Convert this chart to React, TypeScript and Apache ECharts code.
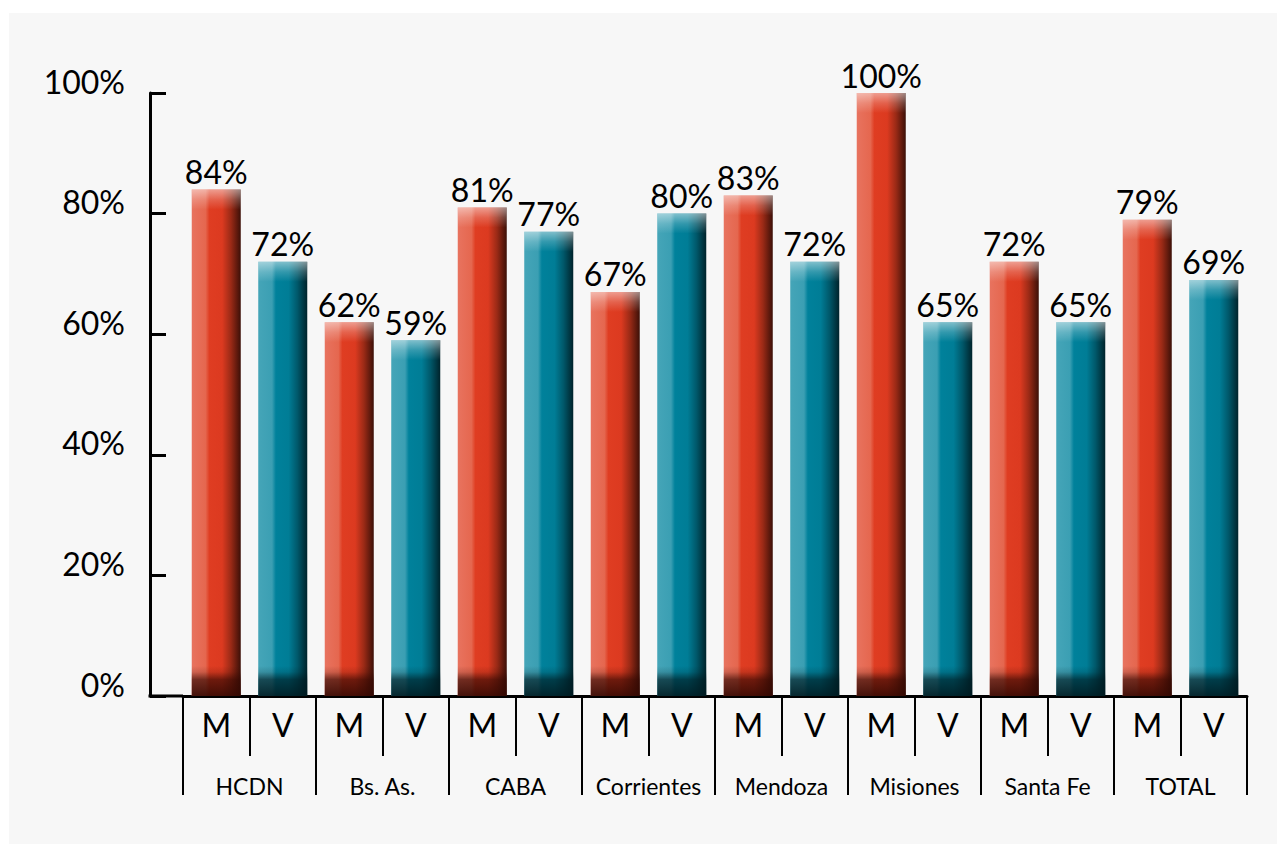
import React, { useEffect, useRef } from "react";
import * as echarts from "echarts";

const groups = ["HCDN", "Bs. As.", "CABA", "Corrientes", "Mendoza", "Misiones", "Santa Fe", "TOTAL"];
const subLabels = ["M", "V"];
const mValues = [84, 62, 81, 67, 83, 100, 72, 79];
const vValues = [72, 59, 77, 80, 72, 62, 62, 69];
const mLabels = ["84%", "62%", "81%", "67%", "83%", "100%", "72%", "79%"];
const vLabels = ["72%", "59%", "77%", "80%", "72%", "65%", "65%", "69%"];
const yTicks = [0, 20, 40, 60, 80, 100];

const FONT = "Lato, 'DejaVu Sans', sans-serif";
const W = 1277;
const H = 844;
const GRID = { left: 183, right: 30, top: 93, bottom: 148 };
const Y_OFFSET = 33;

const redStops = [
  { offset: 0, color: "#e8735f" },
  { offset: 0.28, color: "#e5674f" },
  { offset: 0.36, color: "#df3d22" },
  { offset: 0.62, color: "#dc3a20" },
  { offset: 0.8, color: "#9a2a16" },
  { offset: 1, color: "#3c1008" },
];
const tealStops = [
  { offset: 0, color: "#45a5b8" },
  { offset: 0.28, color: "#3b9fb3" },
  { offset: 0.36, color: "#00819b" },
  { offset: 0.62, color: "#007d96" },
  { offset: 0.8, color: "#00586a" },
  { offset: 1, color: "#00232b" },
];

export default function App() {
  const ref = useRef<HTMLDivElement>(null);

  useEffect(() => {
    document.body.style.margin = "0";
    if (!ref.current) return;
    const chart = echarts.init(ref.current, null, { renderer: "svg" });

    const catData: string[] = [];
    const items: any[] = [];
    groups.forEach((g, i) => {
      catData.push(subLabels[0], subLabels[1]);
      items.push([2 * i, mValues[i], 0, mLabels[i]]);
      items.push([2 * i + 1, vValues[i], 1, vLabels[i]]);
    });

    const renderItem = (params: any, api: any) => {
      const idx = api.value(0);
      const val = api.value(1);
      const kind = api.value(2);
      const label = items[params.dataIndex][3];
      const top = api.coord([idx, val]);
      const base = api.coord([idx, 0]);
      const band = api.size([1, 0])[0];
      const bw = band * 0.737;
      const x = top[0] - bw / 2;
      const h = base[1] - top[1];
      const stops = kind === 0 ? redStops : tealStops;
      const dark = kind === 0 ? "50,8,2" : "0,26,32";
      const botH = Math.min(30, h);
      const topH = Math.min(20, h);
      return {
        type: "group",
        children: [
          {
            type: "rect",
            shape: { x, y: top[1], width: bw, height: h },
            style: { fill: new echarts.graphic.LinearGradient(0, 0, 1, 0, stops) },
          },
          {
            type: "rect",
            shape: { x, y: base[1] - botH, width: bw, height: botH },
            style: {
              fill: new echarts.graphic.LinearGradient(0, 0, 0, 1, [
                { offset: 0, color: `rgba(${dark},0)` },
                { offset: 0.2, color: `rgba(${dark},0.15)` },
                { offset: 0.45, color: `rgba(${dark},0.65)` },
                { offset: 1, color: `rgba(${dark},0.9)` },
              ]),
            },
          },
          {
            type: "rect",
            shape: { x, y: top[1], width: bw, height: topH },
            style: {
              fill: new echarts.graphic.LinearGradient(0, 0, 0, 1, [
                { offset: 0, color: "rgba(255,255,255,0.5)" },
                { offset: 0.5, color: "rgba(255,255,255,0.2)" },
                { offset: 1, color: "rgba(255,255,255,0)" },
              ]),
            },
          },
          {
            type: "text",
            x: top[0],
            y: top[1] - 2,
            style: {
              text: label,
              fontSize: 32,
              fontFamily: FONT,
              fill: "#000",
              align: "center",
              verticalAlign: "bottom",
            },
          },
        ],
      };
    };

    const option: any = {
      animation: false,
      backgroundColor: "#ffffff",
      graphic: [
        {
          type: "rect",
          z: -10,
          silent: true,
          shape: { x: 9, y: 13, width: W - 9, height: H - 13 },
          style: { fill: "#f7f7f7" },
        },
        {
          type: "line",
          z: 10,
          silent: true,
          shape: {
            x1: GRID.left - Y_OFFSET - 1.5,
            y1: H - GRID.bottom,
            x2: GRID.left,
            y2: H - GRID.bottom,
          },
          style: { stroke: "#000", lineWidth: 3 },
        },
      ],
      grid: [
        { ...GRID, containLabel: false },
        { ...GRID, containLabel: false },
      ],
      xAxis: [
        {
          type: "category",
          gridIndex: 0,
          data: catData,
          position: "bottom",
          axisLine: { show: true, lineStyle: { color: "#000", width: 3 } },
          axisTick: { show: true, interval: 0, length: 60, lineStyle: { color: "#000", width: 2 } },
          axisLabel: { interval: 0, fontSize: 32, fontFamily: FONT, color: "#000", margin: 12 },
          splitLine: { show: false },
        },
        {
          type: "category",
          gridIndex: 1,
          data: groups,
          position: "bottom",
          axisLine: { show: false },
          axisTick: { show: true, interval: 0, length: 99, lineStyle: { color: "#000", width: 2 } },
          axisLabel: { interval: 0, fontSize: 23, fontFamily: FONT, color: "#000", margin: 78 },
          splitLine: { show: false },
        },
      ],
      yAxis: [
        {
          type: "value",
          gridIndex: 0,
          min: 0,
          max: 100,
          interval: 20,
          offset: Y_OFFSET,
          axisLine: { show: true, lineStyle: { color: "#000", width: 3 } },
          axisTick: { show: true, inside: true, length: 16, lineStyle: { color: "#000", width: 3 } },
          axisLabel: {
            formatter: (v: number) => (yTicks.includes(v) ? `${v}%` : ""),
            fontSize: 32,
            fontFamily: FONT,
            color: "#000",
            margin: 25,
            verticalAlign: "bottom",
            lineHeight: 24,
          },
          splitLine: { show: false },
        },
        {
          type: "value",
          gridIndex: 1,
          min: 0,
          max: 100,
          show: false,
        },
      ],
      series: [
        {
          type: "custom",
          xAxisIndex: 0,
          yAxisIndex: 0,
          data: items.map((d) => [d[0], d[1], d[2]]),
          renderItem,
          clip: false,
        },
      ],
    };

    chart.setOption(option);
    return () => chart.dispose();
  }, []);

  return <div ref={ref} style={{ width: W, height: H }} />;
}
